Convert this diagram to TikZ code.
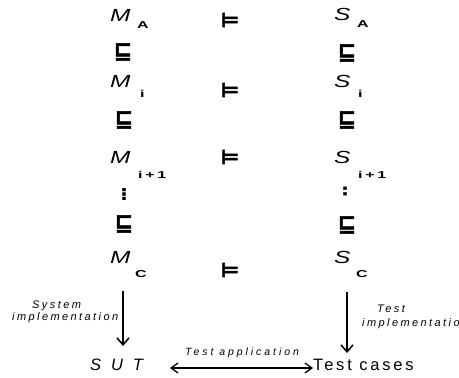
\documentclass[tikz,border=0pt]{standalone}
\usepackage{fontspec}
\setmainfont{Liberation Sans}
\newfontfamily\symfont{DejaVu Sans}[FakeBold=2.5]
\newfontfamily\lblfont{Liberation Sans}[LetterSpace=22]
\newfontfamily\appfont{Liberation Sans}[LetterSpace=28]
\newfontfamily\wordfont{Liberation Sans}[LetterSpace=17]
\newfontfamily\sutfont{Liberation Sans}[LetterSpace=60]
\usetikzlibrary{arrows.meta}
\newcommand\widen[2][1.4]{\scalebox{#1}[1]{#2}}
\tikzset{
  letter/.style={anchor=base west, inner sep=0pt, font=\fontsize{17.5}{18}\selectfont\itshape},
  sub/.style={anchor=base west, inner sep=0pt, font=\fontsize{10}{11}\selectfont\bfseries},
  entails/.style={inner sep=0pt, font=\symfont\bfseries\fontsize{20}{20}\selectfont},
  refines/.style={inner sep=0pt, font=\symfont\bfseries\fontsize{22}{22}\selectfont},
  dots/.style={inner sep=0pt, font=\symfont\bfseries\fontsize{15}{15}\selectfont},
  lbl/.style={anchor=base west, inner sep=0pt, font=\lblfont\itshape\fontsize{11}{12}\selectfont},
  arr/.style={line width=1.5pt, -{Straight Barb[length=7pt,width=12pt,line width=1.5pt]}},
  darr/.style={line width=1.3pt, {Straight Barb[length=7pt,width=10pt,line width=1.3pt]}-{Straight Barb[length=7pt,width=10pt,line width=1.3pt]}}
}
\begin{document}
\begin{tikzpicture}[x=1pt,y=-1pt]
\useasboundingbox (0,0) rectangle (459,378);
% abstraction chain of models (left) and specifications (right)
\node[letter] (mA) at (110,21) {\widen{M}};
\node[sub] (mAs) at (137,28) {\widen[1.6]{A}};
\node[letter] (sA) at (334,20) {\widen{S}};
\node[sub] (sAs) at (357,27) {\widen[1.6]{A}};
\node[entails] (e1) at (230,20) {⊨};

\node[refines] (rl1) at (123,52) {⊑};
\node[refines] (rr1) at (347,53) {⊑};

\node[letter] (mi) at (110,87) {\widen{M}};
\node[sub] (mis) at (140,97) {\widen[1.6]{i}};
\node[letter] (si) at (334,87) {\widen{S}};
\node[sub] (sis) at (358,97) {\widen[1.6]{i}};
\node[entails] (e2) at (230,90) {⊨};

\node[refines] (rl2) at (124,120) {⊑};
\node[refines] (rr2) at (347,120) {⊑};

\node[letter] (mn) at (110,163) {\widen{M}};
\node[sub] (mns) at (138,178) {\widen[1.6]{i\,+\,1}};
\node[letter] (sn) at (334,163) {\widen{S}};
\node[sub] (sns) at (358,178) {\widen[1.6]{i\,+\,1}};
\node[entails] (e3) at (230,157) {⊨};

\node[dots] (dl) at (124,194) {⋮};
\node[dots] (dr) at (345,191) {:};

\node[refines] (rl3) at (124,224) {⊑};
\node[refines] (rr3) at (347,225) {⊑};

\node[letter] (mC) at (110,263) {\widen{M}};
\node[sub] (mCs) at (135,277) {\widen[1.6]{C}};
\node[letter] (sC) at (334,263) {\widen{S}};
\node[sub] (sCs) at (356,277) {\widen[1.6]{C}};
\node[entails] (e4) at (230,270) {⊨};

% implementation level
\node[anchor=base west, inner sep=0pt, font=\sutfont\itshape\fontsize{16.5}{17}\selectfont] (sut) at (90,370) {SUT};
\node[anchor=base west, inner sep=0pt, font=\wordfont\fontsize{16.5}{17}\selectfont] (tc) at (313,370) {Test cases};

\coordinate (la) at (123,291);
\coordinate (lb) at (123,346);
\coordinate (ra) at (347,292);
\coordinate (rb) at (347,353);
\coordinate (ha) at (170,368);
\coordinate (hb) at (313,368);
\draw[arr] (la) -- (lb);
\draw[arr] (ra) -- (rb);
\draw[darr] (ha) -- (hb);

\node[lbl] (l1) at (32,308) {System};
\node[lbl] (l2) at (12,320) {implementation};
\node[lbl] (l3) at (377,312) {Test};
\node[lbl] (l4) at (362,326) {implementation};
\node[lbl, font=\appfont\itshape\fontsize{10.5}{12}\selectfont] (l5) at (185,355) {Test application};
\end{tikzpicture}
\end{document}
